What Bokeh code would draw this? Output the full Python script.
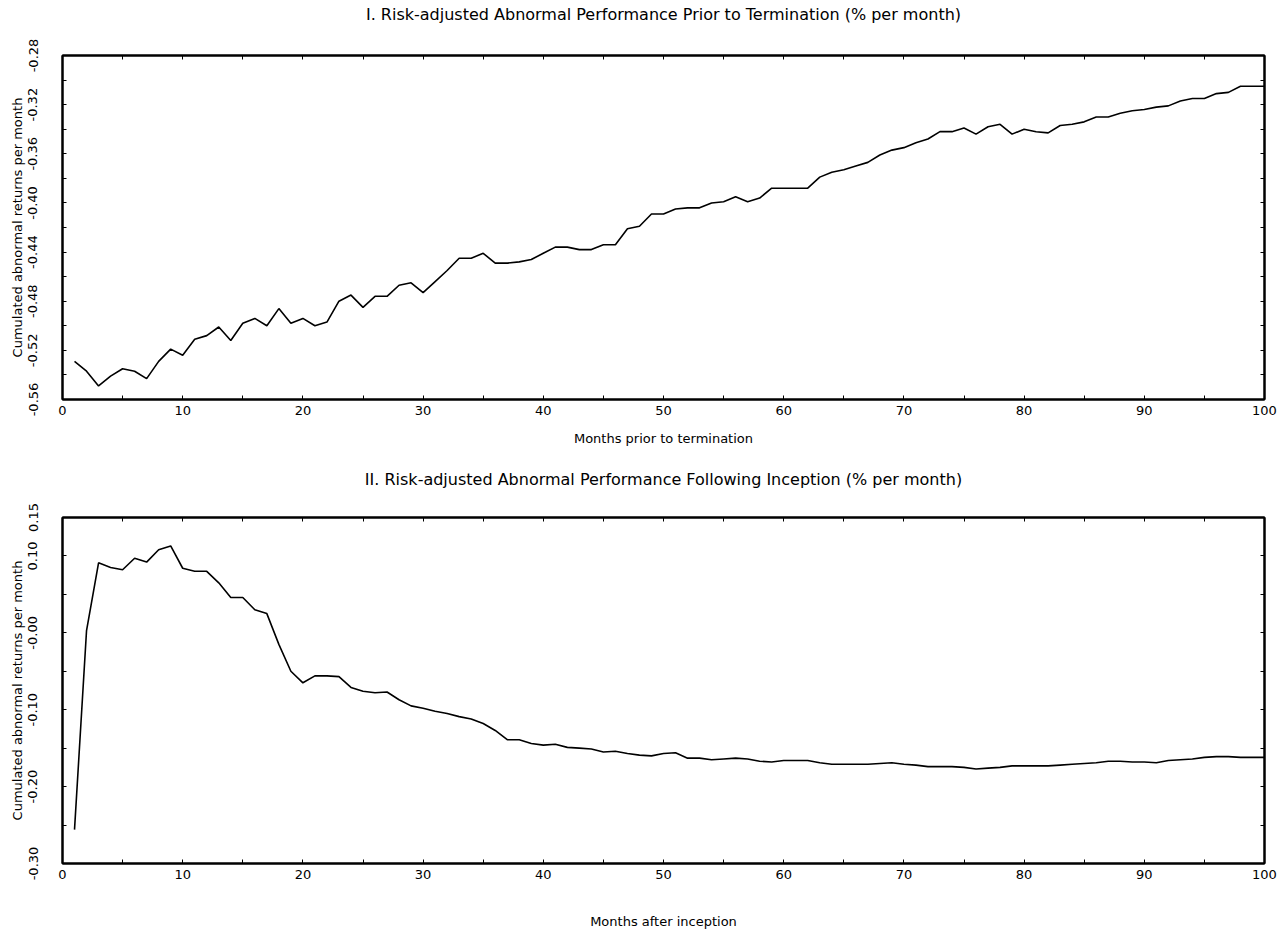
from bokeh.plotting import figure
from bokeh.layouts import column
from bokeh.models import LinearAxis, FixedTicker, PrintfTickFormatter, Range1d, Title
from bokeh.embed import file_html
from bokeh.resources import INLINE

FONT = "DejaVu Sans"

months = list(range(1, 101))

car_prior = [
    -0.529, -0.537, -0.549, -0.541, -0.535, -0.537, -0.543, -0.529, -0.519, -0.524,
    -0.511, -0.508, -0.501, -0.512, -0.498, -0.494, -0.500, -0.486, -0.498, -0.494,
    -0.500, -0.497, -0.480, -0.475, -0.485, -0.476, -0.476, -0.467, -0.465, -0.473,
    -0.464, -0.455, -0.445, -0.445, -0.441, -0.449, -0.449, -0.448, -0.446, -0.441,
    -0.436, -0.436, -0.438, -0.438, -0.434, -0.434, -0.421, -0.419, -0.409, -0.409,
    -0.405, -0.404, -0.404, -0.400, -0.399, -0.395, -0.399, -0.396, -0.388, -0.388,
    -0.388, -0.388, -0.379, -0.375, -0.373, -0.370, -0.367, -0.361, -0.357, -0.355,
    -0.351, -0.348, -0.342, -0.342, -0.339, -0.344, -0.338, -0.336, -0.344, -0.340,
    -0.342, -0.343, -0.337, -0.336, -0.334, -0.330, -0.330, -0.327, -0.325, -0.324,
    -0.322, -0.321, -0.317, -0.315, -0.315, -0.311, -0.310, -0.305, -0.305, -0.305,
]

car_after = [
    -0.256, 0.003, 0.091, 0.085, 0.082, 0.097, 0.092, 0.108, 0.113, 0.084,
    0.080, 0.080, 0.065, 0.046, 0.046, 0.030, 0.025, -0.015, -0.050, -0.065,
    -0.056, -0.056, -0.057, -0.071, -0.076, -0.078, -0.077, -0.087, -0.095, -0.098,
    -0.102, -0.105, -0.109, -0.112, -0.118, -0.127, -0.139, -0.139, -0.144, -0.146,
    -0.145, -0.149, -0.150, -0.151, -0.155, -0.154, -0.157, -0.159, -0.160, -0.157,
    -0.156, -0.163, -0.163, -0.165, -0.164, -0.163, -0.164, -0.167, -0.168, -0.166,
    -0.166, -0.166, -0.169, -0.171, -0.171, -0.171, -0.171, -0.170, -0.169, -0.171,
    -0.172, -0.174, -0.174, -0.174, -0.175, -0.177, -0.176, -0.175, -0.173, -0.173,
    -0.173, -0.173, -0.172, -0.171, -0.170, -0.169, -0.167, -0.167, -0.168, -0.168,
    -0.169, -0.166, -0.165, -0.164, -0.162, -0.161, -0.161, -0.162, -0.162, -0.162,
]

x_major = [0, 10, 20, 30, 40, 50, 60, 70, 80, 90, 100]
x_minor = [5, 15, 25, 35, 45, 55, 65, 75, 85, 95]

p1_y_major = [-0.56, -0.52, -0.48, -0.44, -0.40, -0.36, -0.32, -0.28]
p1_y_minor = [-0.54, -0.50, -0.46, -0.42, -0.38, -0.34, -0.30]

p2_y_major = [-0.30, -0.20, -0.10, 0.0, 0.10, 0.15]
p2_y_minor = [-0.25, -0.15, -0.05, 0.05]

title1 = "I. Risk-adjusted Abnormal Performance Prior to Termination (% per month)"
title2 = "II. Risk-adjusted Abnormal Performance Following Inception (% per month)"
ylab = "Cumulated abnormal returns per month"
xlab1 = "Months prior to termination"
xlab2 = "Months after inception"


def style_axis(ax, ticks, show_labels):
    ax.axis_line_color = "black"
    ax.axis_line_width = 2
    ax.major_tick_in = 4
    ax.major_tick_out = 0
    ax.minor_tick_in = 4
    ax.minor_tick_out = 0
    ax.major_tick_line_color = "black"
    ax.minor_tick_line_color = "black"
    ax.major_tick_line_width = 1
    ax.minor_tick_line_width = 1
    if show_labels:
        ax.major_label_text_font = FONT
        ax.major_label_text_font_size = "13px"
        ax.major_label_text_color = "black"
        ax.axis_label_text_font = FONT
        ax.axis_label_text_font_size = "13px"
        ax.axis_label_text_font_style = "normal"
        ax.axis_label_text_color = "black"
    else:
        ax.major_label_overrides = {t: "" for t in ticks}
        ax.major_label_standoff = 0


def make_panel(title, xlab, y, ymin, ymax, ymaj, ymin_ticks, height, b_top, b_bottom,
               xlab_standoff, top_gap, overrides=None):
    p = figure(width=1280, height=height, output_backend="svg", toolbar_location=None,
               x_range=Range1d(0, 100), y_range=Range1d(ymin, ymax),
               min_border_left=62, min_border_right=16,
               min_border_top=b_top, min_border_bottom=b_bottom)
    p.title.text = ""
    p.grid.visible = False
    p.outline_line_color = "black"
    p.outline_line_width = 2
    p.background_fill_color = "white"
    p.border_fill_color = "white"

    xa = p.xaxis[0]
    xa.ticker = FixedTicker(ticks=x_major, minor_ticks=x_minor)
    xa.axis_label = xlab
    style_axis(xa, x_major, True)
    xa.major_label_standoff = 6
    xa.axis_label_standoff = xlab_standoff

    ya = p.yaxis[0]
    ya.ticker = FixedTicker(ticks=ymaj, minor_ticks=ymin_ticks)
    ya.formatter = PrintfTickFormatter(format="%.2f")
    if overrides:
        ya.major_label_overrides = overrides
    ya.axis_label = ylab
    style_axis(ya, ymaj, True)
    ya.major_label_orientation = "vertical"
    ya.major_label_standoff = 25
    ya.axis_label_standoff = 1

    # top axis: every tick drawn inward as a minor tick; the hidden outward
    # major ticks keep the title at the reference distance from the frame
    top = LinearAxis(ticker=FixedTicker(ticks=x_major, minor_ticks=x_major + x_minor))
    style_axis(top, x_major, False)
    top.major_tick_line_color = None
    top.major_tick_in = 0
    top.major_tick_out = top_gap
    p.add_layout(top, "above")

    t = Title(text=title, align="center", text_font=FONT, text_font_size="16px",
              text_font_style="normal", text_color="black", standoff=4)
    p.add_layout(t, "above")

    right = LinearAxis(ticker=FixedTicker(ticks=ymaj, minor_ticks=ymin_ticks))
    style_axis(right, ymaj, False)
    p.add_layout(right, "right")

    p.line(months, y, line_color="black", line_width=1.6)
    return p


p1 = make_panel(title1, xlab1, car_prior, -0.56, -0.28, p1_y_major, p1_y_minor,
                height=465, b_top=53, b_bottom=66, xlab_standoff=13, top_gap=30)
p2 = make_panel(title2, xlab2, car_after, -0.30, 0.15, p2_y_major, p2_y_minor,
                height=474, b_top=51, b_bottom=76, xlab_standoff=32, top_gap=27,
                overrides={0.0: "-0.00"})

layout = column(p1, p2, spacing=0)

open("out.html", "w").write(file_html(layout, INLINE))
